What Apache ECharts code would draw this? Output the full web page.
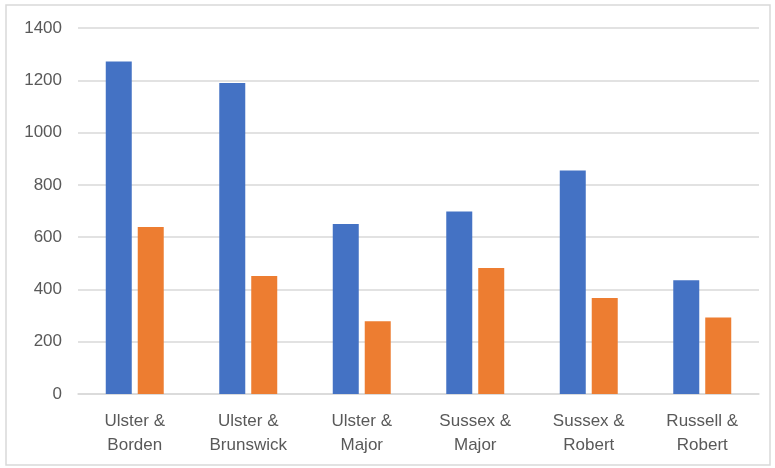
<!DOCTYPE html>
<html>
<head>
<meta charset="utf-8">
<script src="https://cdn.jsdelivr.net/npm/echarts@6/dist/echarts.min.js"></script>
<style>
html,body{margin:0;padding:0;background:#fff;}
#chart{width:775px;height:468px;}
</style>
</head>
<body>
<div id="chart"></div>
<script>
const categories = ["Ulster &\nBorden", "Ulster &\nBrunswick", "Ulster &\nMajor", "Sussex &\nMajor", "Sussex &\nRobert", "Russell &\nRobert"];
const seriesBlue = [1272, 1190, 650, 698, 855, 435];
const seriesOrange = [639, 451, 278, 482, 367, 293];
const yTicks = { min: 0, max: 1400, interval: 200 };

const chart = echarts.init(document.getElementById('chart'), null, { renderer: 'canvas' });
const font = "'Liberation Sans', Arial, sans-serif";
chart.setOption({
  backgroundColor: '#ffffff',
  animation: false,
  graphic: [{
    type: 'rect',
    shape: { x: 6, y: 5, width: 764, height: 460 },
    style: { fill: 'none', stroke: '#d9d9d9', lineWidth: 1.5 },
    silent: true
  }],
  grid: { left: 78, right: 16, top: 28, bottom: 74, containLabel: false },
  xAxis: {
    type: 'category',
    data: categories,
    axisLine: { show: true, lineStyle: { color: '#d9d9d9', width: 1.5 } },
    axisTick: { show: false },
    axisLabel: { color: '#595959', fontSize: 17, fontFamily: font, lineHeight: 24, margin: 15, interval: 0 }
  },
  yAxis: {
    type: 'value',
    min: yTicks.min, max: yTicks.max, interval: yTicks.interval,
    axisLine: { show: false },
    axisTick: { show: false },
    splitLine: { lineStyle: { color: '#d9d9d9', width: 1.5 } },
    axisLabel: { color: '#595959', fontSize: 17, fontFamily: font, margin: 16, formatter: v => String(v) }
  },
  series: [
    { type: 'bar', data: seriesBlue, barWidth: 26, barGap: '23%', itemStyle: { color: '#4472C4' } },
    { type: 'bar', data: seriesOrange, barWidth: 26, barGap: '23%', itemStyle: { color: '#ED7D31' } }
  ]
});
</script>
</body>
</html>
